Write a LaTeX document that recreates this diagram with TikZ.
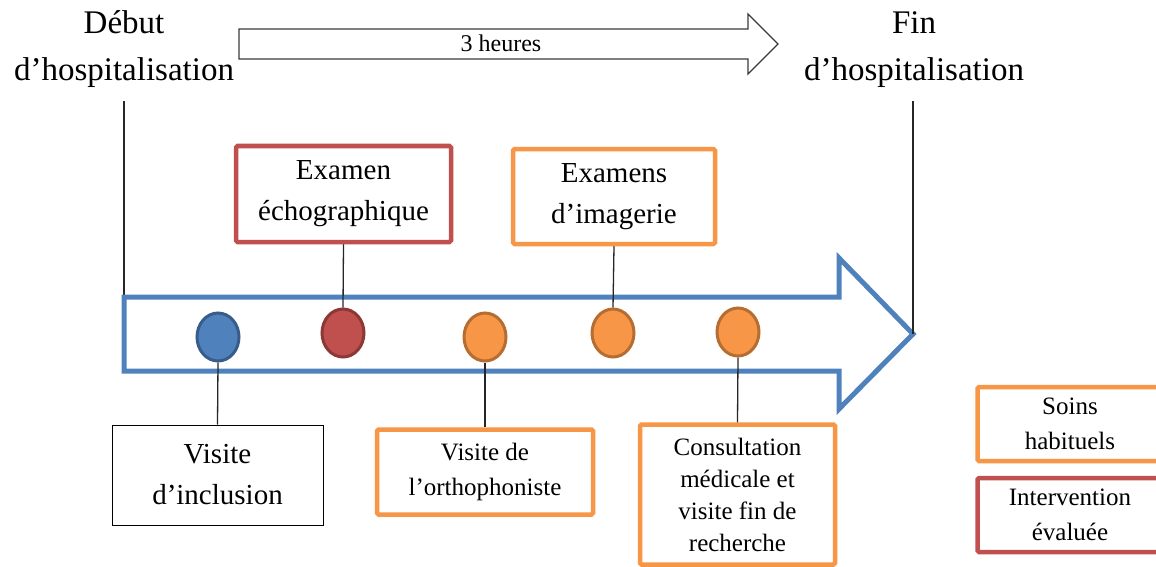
\documentclass[tikz,border=0pt]{standalone}
\usepackage{fontspec}
\setmainfont{Liberation Serif}
\usetikzlibrary{shapes.geometric}
\definecolor{cblue}{HTML}{4F81BD}
\definecolor{cbluedk}{HTML}{385D8A}
\definecolor{cred}{HTML}{C0504D}
\definecolor{creddk}{HTML}{8C3836}
\definecolor{corange}{HTML}{F79646}
\definecolor{corangedk}{HTML}{B66D31}
\definecolor{cgray}{HTML}{3A3A3A}
\tikzset{
  heading/.style={align=center, inner sep=0pt, font=\fontsize{33}{47}\selectfont},
  bigbox/.style={draw, align=center, inner sep=0pt, rounded corners=1.5pt, font=\fontsize{29}{41}\selectfont},
  smallbox/.style={draw, align=center, inner sep=0pt, rounded corners=1.5pt, font=\fontsize{25}{35}\selectfont},
  redb/.style={draw=cred, line width=4.5pt},
  orangeb/.style={draw=corange, line width=4.5pt},
  blackb/.style={draw=black, line width=1pt, rounded corners=0pt},
  dot/.style={ellipse, line width=3pt, minimum width=42pt, minimum height=48pt, inner sep=0pt},
  conn/.style={draw=black!85, line width=1.3pt},
}
\begin{document}
\begin{tikzpicture}[x=1pt,y=-1pt]
\useasboundingbox (0,0) rectangle (1156,567);
\clip (0,0) rectangle (1156,567);
% headings
\node[heading] (debut) at (124,49.5) {Début\\d’hospitalisation};
\node[heading] (fin) at (914,49.5) {Fin\\d’hospitalisation};
% top arrow
\draw[cgray, line width=1.3pt, line join=miter]
  (239,29) -- (748,29) -- (748,14) -- (778,44) -- (748,74) -- (748,59) -- (239,59) -- cycle;
\node[font=\fontsize{24}{28}\selectfont, inner sep=0pt] (duree) at (501,43.5) {3 heures};
% time lines
\coordinate (dtop) at (124,101);
\coordinate (dbot) at (124,333);
\coordinate (ftop) at (913,101);
\coordinate (ftip) at (913,334);
\draw[conn, line width=1.1pt] (dtop) -- (dbot);
% big arrow
\draw[cblue, line width=5pt, line join=miter]
  (124,297) -- (839,297) -- (839,258) -- (ftip) -- (839,409) -- (839,371) -- (124,371) -- cycle;
\draw[conn, line width=1.1pt] (ftop) -- (ftip);
% dots
\node[dot, fill=cblue, draw=cbluedk] (c1) at (218,337) {};
\node[dot, fill=cred, draw=creddk] (c2) at (343,333) {};
\node[dot, fill=corange, draw=corangedk] (c3) at (485,337) {};
\node[dot, fill=corange, draw=corangedk] (c4) at (613,333) {};
\node[dot, fill=corange, draw=corangedk] (c5) at (738,332) {};
% boxes
\node[bigbox, redb, minimum width=215pt, minimum height=96pt] (echo) at (343.5,194) {\raisebox{-3pt}{Examen}\\\raisebox{-3pt}{échographique}};
\node[bigbox, orangeb, minimum width=202pt, minimum height=95pt] (imag) at (614,196.5) {\raisebox{-3pt}{Examens}\\\raisebox{-3pt}{d’imagerie}};
\node[bigbox, blackb, minimum width=211pt, minimum height=100pt] (incl) at (217.5,475) {Visite\\d’inclusion};
\node[smallbox, orangeb, minimum width=216pt, minimum height=85pt] (ortho) at (485,472) {Visite de\\l’orthophoniste};
\node[smallbox, orangeb, minimum width=195pt, minimum height=140pt, font=\fontsize{25}{32}\selectfont] (consult) at (737.5,494.5) {Consultation\\médicale et\\visite fin de\\recherche};
\node[smallbox, orangeb, minimum width=185pt, minimum height=74pt] (soins) at (1070,424) {Soins\\habituels};
\node[smallbox, redb, minimum width=185pt, minimum height=74pt] (interv) at (1070,515) {Intervention\\évaluée};
% connectors
\draw[conn] (echo.south) -- (c2.north);
\draw[conn] (imag.south) -- (c4.north);
\draw[conn] (c1.south) -- (incl.north);
\draw[conn] (c3.south) -- (ortho.north);
\draw[conn] (c5.south) -- (consult.north);
\end{tikzpicture}
\end{document}
